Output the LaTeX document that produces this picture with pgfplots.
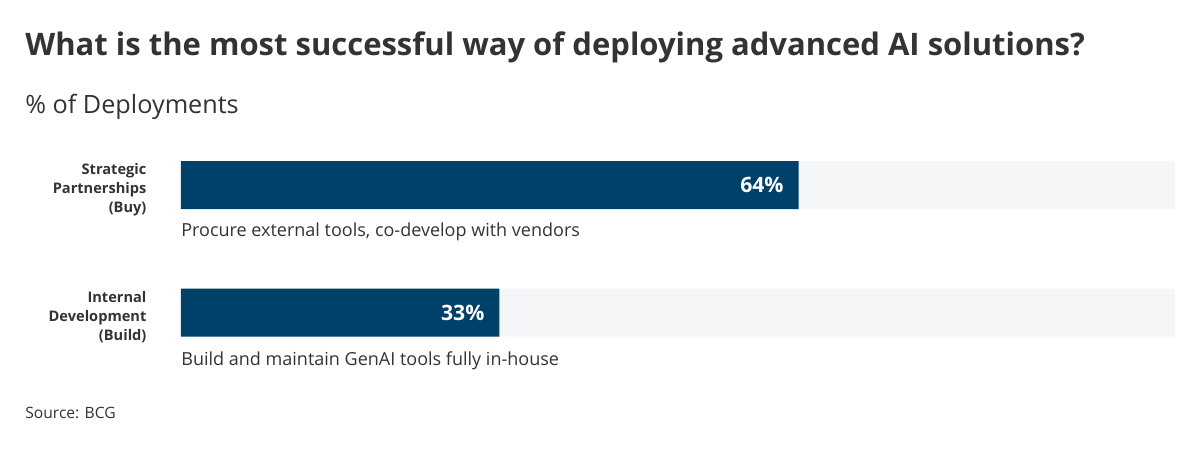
\documentclass[border=0pt]{standalone}
\usepackage{fontspec}
\setmainfont{Open Sans}
\usepackage{pgfplots}
\pgfplotsset{compat=1.18}

\definecolor{barblue}{HTML}{00416A}
\definecolor{track}{HTML}{F4F6F8}
\definecolor{txt}{HTML}{333333}

\begin{document}
\begin{tikzpicture}
% 1 px of the reference = 0.5pt, origin at the top left corner
\path[use as bounding box] (0,0) rectangle (600pt,-225.5pt);

\node[anchor=west, inner sep=0, text=txt, font=\fontsize{15.5}{17}\selectfont\bfseries]
  at (12.5pt,-23.5pt) {What is the most successful way of deploying advanced AI solutions?};
\node[anchor=west, inner sep=0, text=txt, font=\fontsize{12.6}{14}\selectfont]
  at (12.5pt,-53.5pt) {\% of Deployments};
\node[anchor=west, inner sep=0, text=txt, font=\fontsize{7.8}{9}\selectfont]
  at (12.5pt,-206.5pt) {Source: BCG};

\begin{axis}[
    at={(90.5pt,-60.625pt)},
    anchor=north west,
    width=497pt,
    height=127.5pt,
    scale only axis,
    xbar,
    bar width=24pt,
    bar shift=0pt,
    xmin=0, xmax=103,
    ymin=-0.5, ymax=1.5,
    y dir=reverse,
    xtick=\empty,
    ytick={0,1},
    yticklabels={{Strategic\\Partnerships\\(Buy)},{Internal\\Development\\(Build)}},
    yticklabel style={align=right, text=txt, font=\fontsize{7.3}{9.5}\selectfont\bfseries, xshift=-9.5pt, yshift=-2.5pt},
    axis line style={draw=none},
    tick style={draw=none},
    clip=false,
]
% grey track behind each bar
\addplot[fill=track, draw=none] coordinates {(103,0) (103,1)};
% share of deployments
\addplot[fill=barblue, draw=none,
    nodes near coords={\pgfmathprintnumber[assume math mode=true]{\pgfplotspointmeta}\%},
    nodes near coords style={anchor=east, xshift=-4pt, text=white, font=\fontsize{10.6}{12}\selectfont\bfseries},
    point meta=x] coordinates {(64,0) (33,1)};

\node[anchor=west, inner sep=0, text=txt, font=\fontsize{9}{10}\selectfont]
  at (axis cs:0,0.37) {Procure external tools, co-develop with vendors};
\node[anchor=west, inner sep=0, text=txt, font=\fontsize{9}{10}\selectfont]
  at (axis cs:0,1.38) {Build and maintain GenAI tools fully in-house};
\end{axis}
\end{tikzpicture}
\end{document}
